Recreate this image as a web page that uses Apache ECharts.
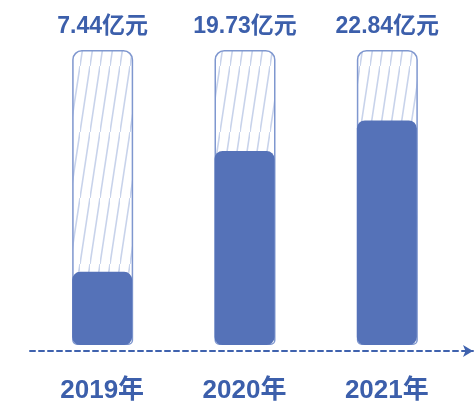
<!DOCTYPE html>
<html>
<head>
<meta charset="utf-8">
<script src="https://cdn.jsdelivr.net/npm/echarts@6/dist/echarts.min.js"></script>
<style>
  html, body { margin: 0; padding: 0; background: #fff; }
  #container { width: 475px; height: 404px; }
</style>
</head>
<body>
<div id="container"></div>
<script>
// 数据
const years = ['2019年', '2020年', '2021年']
const revenue = [7.44, 19.73, 22.84]
const unit = '亿元'
const yMax = 30
const frameValues = years.map(() => yMax)

// 斜线填充
function hatchPattern() {
  let c = document.createElement('canvas')
  c.width = 10
  c.height = 66
  let ctx = c.getContext('2d')
  ctx.strokeStyle = '#c8d3eb'
  ctx.lineWidth = 1.6
  ctx.beginPath()
  ctx.moveTo(-1, 72.6)
  ctx.lineTo(11, -6.6)
  ctx.stroke()
  return c
}

let myChart = echarts.init(document.getElementById('container'))
const fontFamily = '"Liberation Sans", "Noto Sans CJK SC", sans-serif'
const blue = '#3c5fab'

let option = {
  animation: false,
  grid: [
    { left: 31, right: 17, top: 50, bottom: 53 },
    { left: 30, right: 2, top: 100, bottom: 53 }
  ],
  xAxis: [
    {
      type: 'category',
      data: years,
      gridIndex: 0,
      axisLine: { show: false },
      axisTick: { show: false },
      axisLabel: {
        margin: 33,
        color: blue,
        fontSize: 26,
        fontWeight: 'bold',
        fontFamily: fontFamily
      }
    },
    {
      type: 'value',
      gridIndex: 1,
      min: 0,
      max: 1,
      axisLine: {
        show: true,
        symbol: ['none', 'arrow'],
        symbolSize: [9, 10],
        lineStyle: { color: '#3f62ae', width: 2, type: [5, 4] }
      },
      axisTick: { show: false },
      axisLabel: { show: false },
      splitLine: { show: false }
    }
  ],
  yAxis: [
    { type: 'value', gridIndex: 0, min: 0, max: yMax, show: false },
    { type: 'value', gridIndex: 1, show: false }
  ],
  series: [
    {
      name: '框',
      type: 'bar',
      data: frameValues,
      barWidth: 61,
      barGap: '-100%',
      itemStyle: {
        color: { image: hatchPattern(), repeat: 'repeat' },
        borderColor: '#7f97cf',
        borderWidth: 1.5,
        borderRadius: [9, 9, 4, 4]
      },
      label: {
        show: true,
        position: 'top',
        distance: 12,
        formatter: function(p) {
          return revenue[p.dataIndex] + unit
        },
        color: blue,
        fontSize: 23,
        fontWeight: 'bold',
        fontFamily: fontFamily
      }
    },
    {
      name: '营收',
      type: 'bar',
      data: revenue,
      barWidth: 60,
      itemStyle: {
        color: '#5572b8',
        borderRadius: 8
      }
    }
  ]
}

option && myChart.setOption(option)
</script>
</body>
</html>
